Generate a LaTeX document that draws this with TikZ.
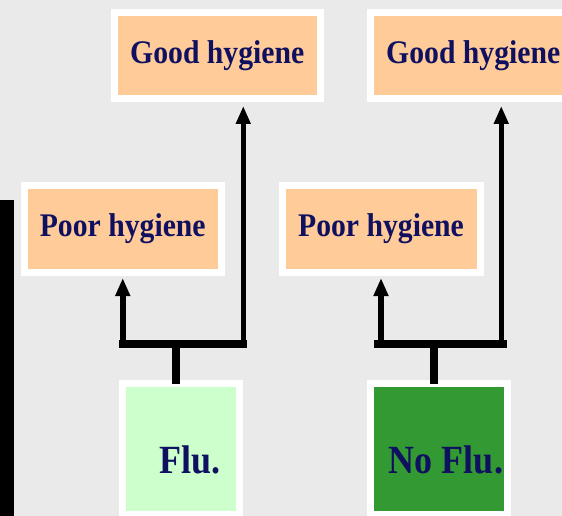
\documentclass[tikz,border=0pt]{standalone}
\usepackage{fontspec}
\setmainfont{Liberation Serif}
\newfontfamily\tallserif[FakeStretch=0.9]{Liberation Serif}
\usetikzlibrary{positioning,arrows.meta}
\definecolor{pagegray}{RGB}{234,234,234}
\definecolor{peach}{RGB}{255,204,153}
\definecolor{mintgreen}{RGB}{204,255,204}
\definecolor{leafgreen}{RGB}{51,153,51}
\definecolor{inknavy}{RGB}{16,16,96}

\begin{document}
\begin{tikzpicture}[
  x=1pt, y=-1pt,
  habit/.style={
    draw=white, line width=7pt, fill=peach, outer sep=0pt, inner sep=0pt,
    minimum width=198pt, minimum height=86.5pt,
    font=\tallserif\fontsize{33}{38}\selectfont\bfseries, text=inknavy
  },
  cond/.style={
    draw=white, line width=7pt, outer sep=0pt, inner sep=0pt,
    minimum height=130.5pt, text height=50pt, text depth=0pt,
    font=\tallserif\fontsize{40}{46}\selectfont\bfseries, text=inknavy
  },
  stem/.style={line width=8pt},
  bar/.style={line width=8pt, line cap=rect},
  arr/.style={-{Triangle[length=18pt, width=14pt]}, line width=5.5pt}
]

%% ── CANVAS ──
\useasboundingbox (0,0) rectangle (562,516);
\fill[pagegray] (0,0) rectangle (562,516);
\fill[black] (0,200) rectangle (14,516);

%% ── OUTCOMES ──
\node[habit, minimum width=206.5pt] (good1) at (217.25,55.75) {Good hygiene};
\node[habit, minimum width=206.5pt, right=49.5pt of good1] (good2) {Good hygiene};
\node[habit, minimum width=197.5pt] (poor1) at (122.75,228.75) {Poor hygiene};
\node[habit, right=60.5pt of poor1] (poor2) {Poor hygiene};

%% ── CONDITIONS ──
\node[cond, fill=mintgreen, minimum width=117pt] (flu) at (181,448.75)
  {\hspace*{18pt}Flu.};
\node[cond, fill=leafgreen, minimum width=137pt, right=131pt of flu] (noflu)
  {\hspace*{14pt}No Flu.};

%% ── JUNCTIONS ──
\coordinate (j1) at (176,344);
\coordinate (j2) at (434,344);
\coordinate (g1) at ([xshift=26pt]good1.south);
\coordinate (g2) at ([xshift=28pt]good2.south);

%% ── LEFT TREE ──
\draw[stem] (flu.north -| j1) -- (j1);
\draw[bar] (j1 -| poor1.south) -- (j1 -| g1);
\draw[arr, shorten >=6pt] (j1 -| poor1.south) -- (poor1.south);
\draw[arr, shorten >=7pt] (j1 -| g1) -- (g1);

%% ── RIGHT TREE ──
\draw[stem] (noflu.north -| j2) -- (j2);
\draw[bar] ([xshift=-3pt]j2 -| poor2.south) -- ([xshift=2pt]j2 -| g2);
\draw[arr, shorten >=6pt] (j2 -| poor2.south) -- (poor2.south);
\draw[arr, shorten >=7pt] (j2 -| g2) -- (g2);

\end{tikzpicture}
\end{document}
